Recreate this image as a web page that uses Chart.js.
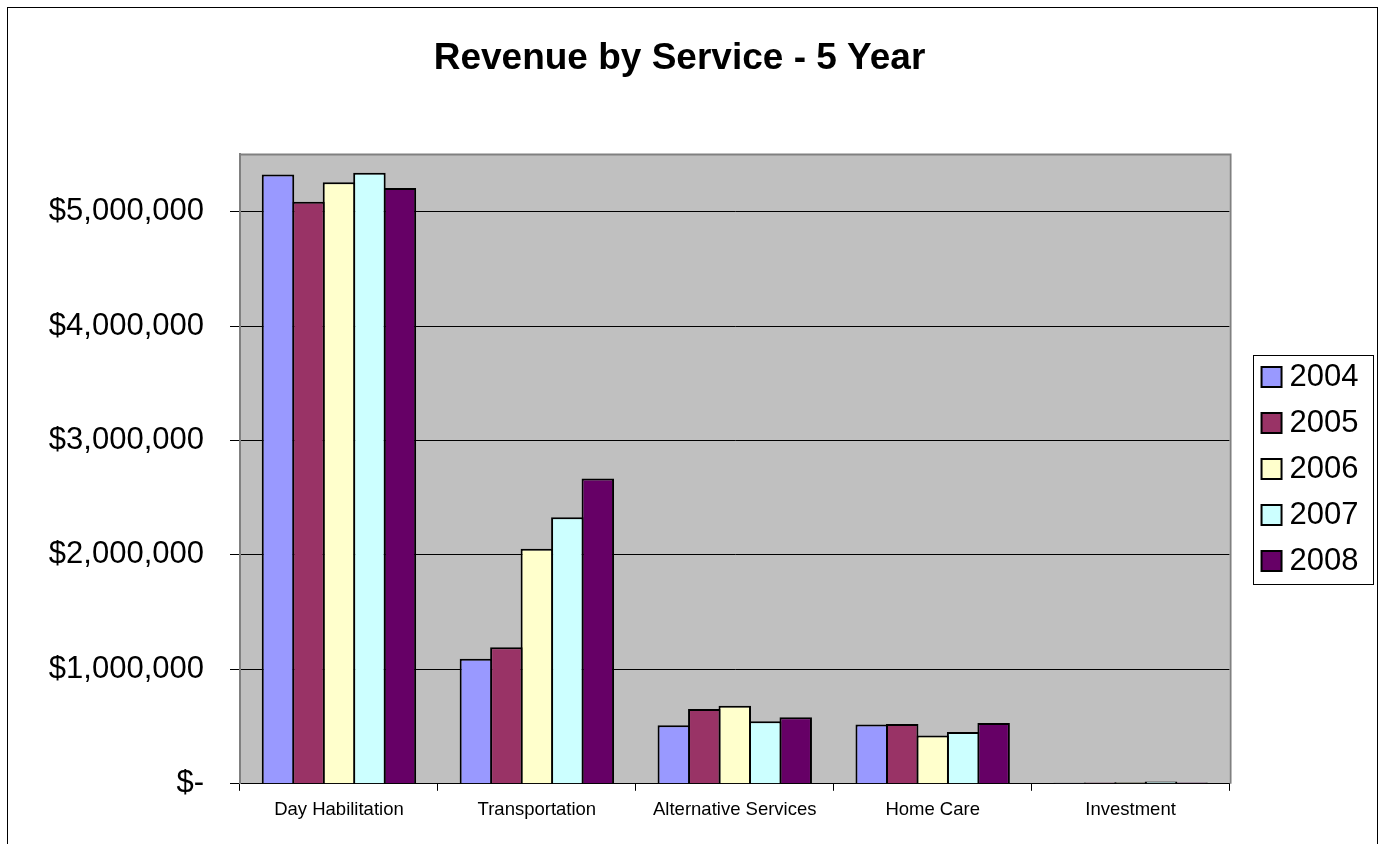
<!DOCTYPE html>
<html>
<head>
<meta charset="utf-8">
<title>Revenue by Service - 5 Year</title>
<script src="https://cdn.jsdelivr.net/npm/chart.js@4/dist/chart.umd.min.js"></script>
<style>
  html, body { margin: 0; padding: 0; background: #fff; }
  #wrap { position: relative; width: 1384px; height: 844px; overflow: hidden; }
  #frame { position: absolute; left: 7px; top: 7px; width: 1369px; height: 900px; border: 1px solid #000; }
  #chart_revenue { position: absolute; left: 0; top: 0; }
</style>
</head>
<body>
<div id="wrap">
  <div id="frame"></div>
  <canvas id="chart_revenue" width="1384" height="844"></canvas>
</div>
<script>
// services on the x axis
const services = ['Day Habilitation', 'Transportation', 'Alternative Services', 'Home Care', 'Investment'];
const years = ['2004', '2005', '2006', '2007', '2008'];

// revenue per service, one array per year (dollars)
const rev2004 = [5324000, 1092000, 512000, 518000, 9000];
const rev2005 = [5087000, 1194000, 654000, 523000, 12000];
const rev2006 = [5256000, 2054000, 681000, 422000, 14000];
const rev2007 = [5339000, 2329000, 547000, 453000, 20000];
const rev2008 = [5207000, 2667000, 582000, 532000, 12000];

// y axis
const yTickValues = [0, 1000000, 2000000, 3000000, 4000000, 5000000];
const yMax = 5500000;

const yearColors = ['#9999FF', '#993366', '#FFFFCC', '#CCFFFF', '#660066'];

const FONT = "'Liberation Sans', Arial, sans-serif";
const LEGEND_SHIFT = 17;  // gap between plot and legend
const LEGEND_TEXT_GAP = 8; // swatch -> year text

// grey plot background + frame, legend placement and its box
const plotFrame = {
  id: 'plotFrame',
  beforeDraw(chart) {
    const {ctx, chartArea: a} = chart;
    ctx.save();
    ctx.fillStyle = '#C0C0C0';
    ctx.fillRect(a.left, a.top, a.right - a.left, a.bottom - a.top);
    ctx.restore();
  },
  afterDatasetsDraw(chart) {
    const {ctx, chartArea: a} = chart;
    ctx.save();
    ctx.strokeStyle = '#808080';
    ctx.lineWidth = 2;
    ctx.beginPath();
    ctx.moveTo(a.left, a.top);
    ctx.lineTo(a.right + 1, a.top);
    ctx.lineTo(a.right + 1, a.bottom);
    ctx.stroke();
    ctx.restore();
  },
  afterLayout(chart) {
    const lg = chart.legend;
    const labels = lg.options.labels;
    const textW = Math.max(...lg.legendHitBoxes.map(b => b.width)) - labels.boxWidth - labels.font.size / 2;
    lg.left += LEGEND_SHIFT;
    // text is right aligned, so the right edge sets where it ends
    lg.right = lg.left + labels.padding + labels.boxWidth + LEGEND_TEXT_GAP + textW;
  },
  afterDraw(chart) {
    const lg = chart.legend;
    const boxes = lg.legendHitBoxes;
    if (!boxes || !boxes.length) return;
    const pad = lg.options.labels.padding;
    const x0 = lg.left + pad - 9;
    const x1 = lg.right + 14;
    const y0 = boxes[0].top - 7;
    const last = boxes[boxes.length - 1];
    const y1 = last.top + last.height + 7;
    const ctx = chart.ctx;
    ctx.save();
    ctx.strokeStyle = '#000';
    ctx.lineWidth = 1;
    ctx.strokeRect(Math.round(x0) + 0.5, Math.round(y0) + 0.5, Math.round(x1 - x0), Math.round(y1 - y0));
    ctx.restore();
  }
};

function moneyLabel(v) {
  if (v === 0) return '$-';
  return '$' + v.toLocaleString('en-US');
}

const datasets = [rev2004, rev2005, rev2006, rev2007, rev2008].map((vals, i) => ({
  label: years[i],
  data: vals,
  backgroundColor: yearColors[i],
  borderColor: '#000',
  borderWidth: 2,
  borderSkipped: 'bottom',
  categoryPercentage: 0.77,
  barPercentage: 1.066 // neighbouring bars share their outline
}));

new Chart(document.getElementById('chart_revenue'), {
  type: 'bar',
  data: { labels: services, datasets: datasets },
  options: {
    responsive: false,
    animation: false,
    layout: { padding: { left: 0, right: 25, top: 0, bottom: 15 } },
    plugins: {
      title: {
        display: true,
        text: 'Revenue by Service - 5 Year',
        color: '#000',
        font: { family: FONT, size: 37, weight: 'bold' },
        padding: { top: 37, bottom: 73 }
      },
      legend: {
        position: 'right',
        fullSize: false,
        labels: {
          color: '#000',
          font: { family: FONT, size: 31 },
          boxWidth: 20,
          boxHeight: 20,
          padding: 15,
          textAlign: 'right'
        }
      },
      tooltip: { enabled: false }
    },
    scales: {
      x: {
        grid: {
          offset: true,
          drawOnChartArea: false,
          drawTicks: true,
          tickLength: 7,
          tickColor: '#000'
        },
        border: { color: '#000', width: 1 },
        ticks: {
          color: '#000',
          font: { family: FONT, size: 18.5 },
          padding: 8,
          maxRotation: 0
        }
      },
      y: {
        min: 0,
        max: yMax,
        afterFit(scale) { scale.width = 240; },
        afterBuildTicks(scale) {
          scale.ticks = yTickValues.map(v => ({ value: v }));
        },
        grid: {
          color: '#000',
          lineWidth: 1,
          tickLength: 10,
          tickColor: '#000'
        },
        border: { color: '#808080', width: 2 },
        ticks: {
          color: '#000',
          font: { family: FONT, size: 31 },
          padding: 26,
          callback: (v) => moneyLabel(v)
        }
      }
    }
  },
  plugins: [plotFrame]
});
</script>
</body>
</html>
